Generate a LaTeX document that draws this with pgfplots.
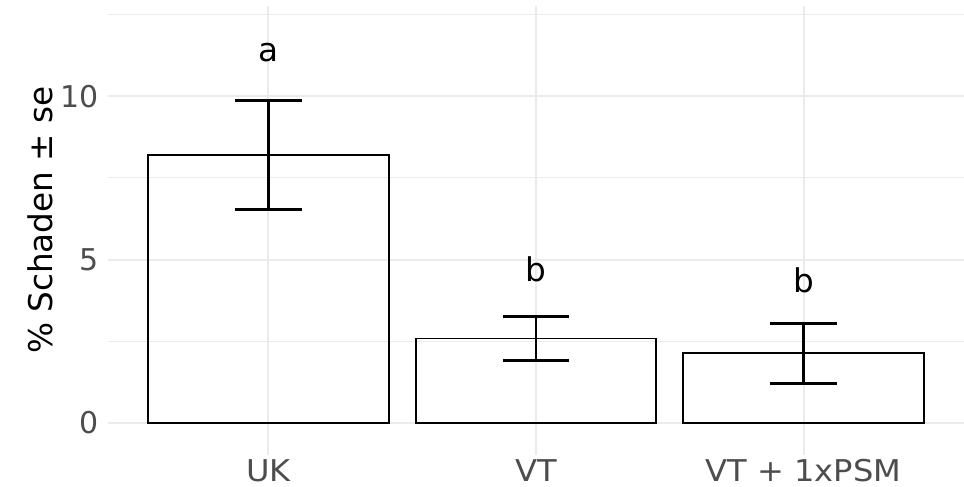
\documentclass[border=0pt]{standalone}
\usepackage{pgfplots}
\pgfplotsset{compat=1.18}
\usepackage{fontspec}
\setmainfont{DejaVu Sans}
\newfontfamily\tickfont{DejaVu Sans}[FakeStretch=1.07]
\definecolor{gridc}{HTML}{EBEBEB}
\definecolor{tickc}{HTML}{4D4D4D}
\begin{document}
\begin{tikzpicture}
\path[use as bounding box] (-81pt,-23.25pt) rectangle (642pt,341.25pt);
\begin{axis}[
  at={(0,0)}, anchor=south west,
  scale only axis, width=642pt, height=336.75pt,
  xmin=0.4, xmax=3.6, ymin=-0.98, ymax=12.76,
  axis line style={draw=none},
  major tick length=0pt, minor tick length=0pt,
  tick style={draw=none},
  xtick={1,2,3}, xticklabels={UK,VT,VT + 1xPSM},
  ytick={0,5,10}, minor ytick={2.5,7.5,12.5},
  ymajorgrids, yminorgrids, xmajorgrids,
  major grid style={gridc, line width=1.5pt},
  minor grid style={gridc, line width=0.75pt},
  /pgf/number format/assume math mode=true,
  ticklabel style={text=tickc, inner sep=0pt},
  xticklabel style={font=\tickfont\fontsize{22.5}{27}\selectfont, anchor=north, yshift=-3pt},
  yticklabel style={font=\fontsize{22.5}{27}\selectfont, anchor=east, xshift=-7pt},
  ylabel={\% Schaden ± se},
  ylabel style={font=\fontsize{24.5}{29}\selectfont, text=black, at={(axis description cs:-0.0794,0.523)}, anchor=center},
  clip=false,
]
\addplot[ybar, bar width=0.9, fill=none, draw=black, line width=1.4pt] table {
x y
1 8.20
2 2.585
3 2.13
};
\addplot[draw=none, mark=none,
  error bars/.cd, y dir=both, y explicit,
  error bar style={draw=black, line width=2.2pt},
  error mark options={rotate=90, mark size=25pt, line width=2.2pt, draw=black}]
  table[y error=e] {
x y e
1 8.20 1.67
2 2.585 0.665
3 2.13 0.925
};
\addplot[only marks, mark=none, nodes near coords, point meta=explicit symbolic,
  nodes near coords style={anchor=center, font=\fontsize{24.5}{29}\selectfont, text=black}]
  table[meta=lab] {
x y lab
1 11.32 a
2 4.70 b
3 4.38 b
};
\end{axis}
\end{tikzpicture}
\end{document}
